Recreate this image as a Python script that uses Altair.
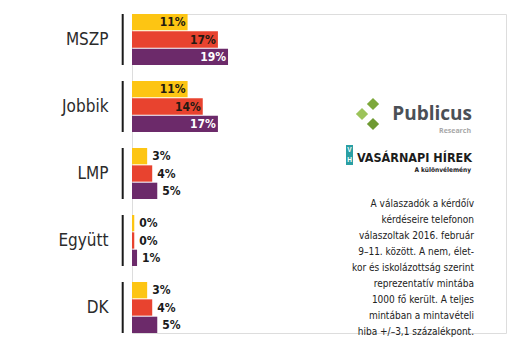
import altair as alt
import pandas as pd

# ---- data ----
parties = ["MSZP", "Jobbik", "LMP", "Együtt", "DK"]
series_names = ["A", "B", "C"]
yellow_vals = [11, 11, 3, 0, 3]
red_vals = [17, 14, 4, 0, 4]
purple_vals = [19, 17, 5, 1, 5]
series_colors = ["#FDC513", "#E8432F", "#6C2A6A"]

note_lines = [
    "A válaszadók a kérdőív",
    "kérdéseire telefonon",
    "válaszoltak 2016. február",
    "9–11. között. A nem, élet-",
    "kor és iskolázottság szerint",
    "reprezentatív mintába",
    "1000 fő került. A teljes",
    "mintában a mintavételi",
    "hiba +/–3,1 százalékpont.",
]

rows = []
for i, p in enumerate(parties):
    for s, vals in zip(series_names, [yellow_vals, red_vals, purple_vals]):
        rows.append({"party": p, "series": s, "value": vals[i], "label": f"{vals[i]}%"})
df = pd.DataFrame(rows)
df_parties = pd.DataFrame({"party": parties})

OX, OY = 132, 14  # plot origin in page pixels
def px(x):
    return x - OX
def py(y):
    return y - OY

NARROW = "Liberation Sans Narrow, DejaVu Sans Condensed, sans-serif"

yscale = alt.Scale(domain=parties, paddingInner=16 / 67, paddingOuter=0)
yenc = alt.Y("party:N", scale=yscale,
             axis=alt.Axis(title=None, domain=False, ticks=False, labelPadding=24,
                           labelFont=NARROW, labelFontSize=17, labelColor="#2b2b2b"))
yoff = alt.YOffset("series:N", scale=alt.Scale(domain=series_names, paddingInner=0.06, paddingOuter=0))
xscale = alt.Scale(domain=[0, 74], nice=False)

base = alt.Chart(df).transform_calculate(w="max(datum.value, 0.45)")

bars = base.mark_bar().encode(
    y=yenc,
    yOffset=yoff,
    x=alt.X("w:Q", scale=xscale, axis=None),
    color=alt.Color("series:N", scale=alt.Scale(domain=series_names, range=series_colors), legend=None),
)

inside = base.transform_filter("datum.value >= 10").mark_text(
    align="right", baseline="middle", dx=-2, font=NARROW, fontSize=12, fontWeight="bold"
).encode(
    y=yenc, yOffset=yoff,
    x=alt.X("value:Q", scale=xscale, axis=None),
    text="label:N",
    color=alt.condition(alt.datum.series == "C", alt.value("white"), alt.value("#231a12")),
)

outside = base.transform_filter("datum.value < 10").mark_text(
    align="left", baseline="middle", dx=5, font=NARROW, fontSize=12, fontWeight="bold", color="#1a1a1a"
).encode(
    y=yenc, yOffset=yoff,
    x=alt.X("w:Q", scale=xscale, axis=None),
    text="label:N",
)

rules = alt.Chart(df_parties).mark_bar(color="#1a1a1a").encode(
    y=yenc,
    x=alt.value(px(121.7)), x2=alt.value(px(123.7)),
)

one = alt.Data(values=[{}])

# Publicus logo
diamonds = alt.Chart(pd.DataFrame({
    "dx": [px(373), px(362), px(373)],
    "dy": [py(104), py(114), py(124)],
    "c": ["#7DA83B", "#9CC35A", "#6F9A33"],
})).mark_point(shape="diamond", filled=True, size=150, opacity=1).encode(
    x=alt.X("dx:Q", scale=None), y=alt.Y("dy:Q", scale=None), color=alt.Color("c:N", scale=None)
)
publicus = alt.Chart(one).mark_text(
    text="Publicus", align="right", baseline="alphabetic", font="Open Sans", fontWeight="bold",
    fontSize=19, color="#4B5056"
).encode(x=alt.value(px(472)), y=alt.value(py(120)))
research = alt.Chart(one).mark_text(
    text="Research", align="right", baseline="middle", font="Open Sans", fontWeight="bold",
    fontSize=7, color="#A8A8A8"
).encode(x=alt.value(px(471)), y=alt.value(py(131)))

# Vasárnapi Hírek logo
vh_box = alt.Chart(one).mark_rect(color="#2A9FA3").encode(
    x=alt.value(px(346)), x2=alt.value(px(353)), y=alt.value(py(145)), y2=alt.value(py(165))
)
vh_v = alt.Chart(one).mark_text(text="V", fontSize=6.5, fontWeight="bold", color="white",
                                 baseline="middle", align="center").encode(
    x=alt.value(px(349.5)), y=alt.value(py(149.5)))
vh_h = alt.Chart(one).mark_text(text="H", fontSize=6.5, fontWeight="bold", color="white",
                                 baseline="middle", align="center").encode(
    x=alt.value(px(349.5)), y=alt.value(py(160)))
vh_text = alt.Chart(one).mark_text(
    text="VASÁRNAPI HÍREK", align="right", baseline="alphabetic", font=NARROW, fontWeight="bold",
    fontSize=12.5, color="#1c1c1c"
).encode(x=alt.value(px(472)), y=alt.value(py(162)))
vh_sub = alt.Chart(one).mark_text(
    text="A különvélemény", align="right", baseline="middle", font=NARROW, fontWeight="bold",
    fontSize=6.5, color="#1c1c1c"
).encode(x=alt.value(px(471)), y=alt.value(py(170)))

note = alt.Chart(one).mark_text(
    text=note_lines, align="right", baseline="middle", lineHeight=16, font=NARROW,
    fontSize=10, color="#222222"
).encode(x=alt.value(px(474)), y=alt.value(py(203.5)))

chart = alt.layer(
    rules, bars, inside, outside, diamonds, publicus, research,
    vh_box, vh_v, vh_h, vh_text, vh_sub, note
).properties(
    width=374, height=319,
    autosize=alt.AutoSizeParams(type="none"),
    padding={"left": OX, "top": OY, "right": 4, "bottom": 17},
).configure_view(stroke=None).configure(background="white")

chart.save("out.html", embed_options={"renderer": "svg", "actions": False})
